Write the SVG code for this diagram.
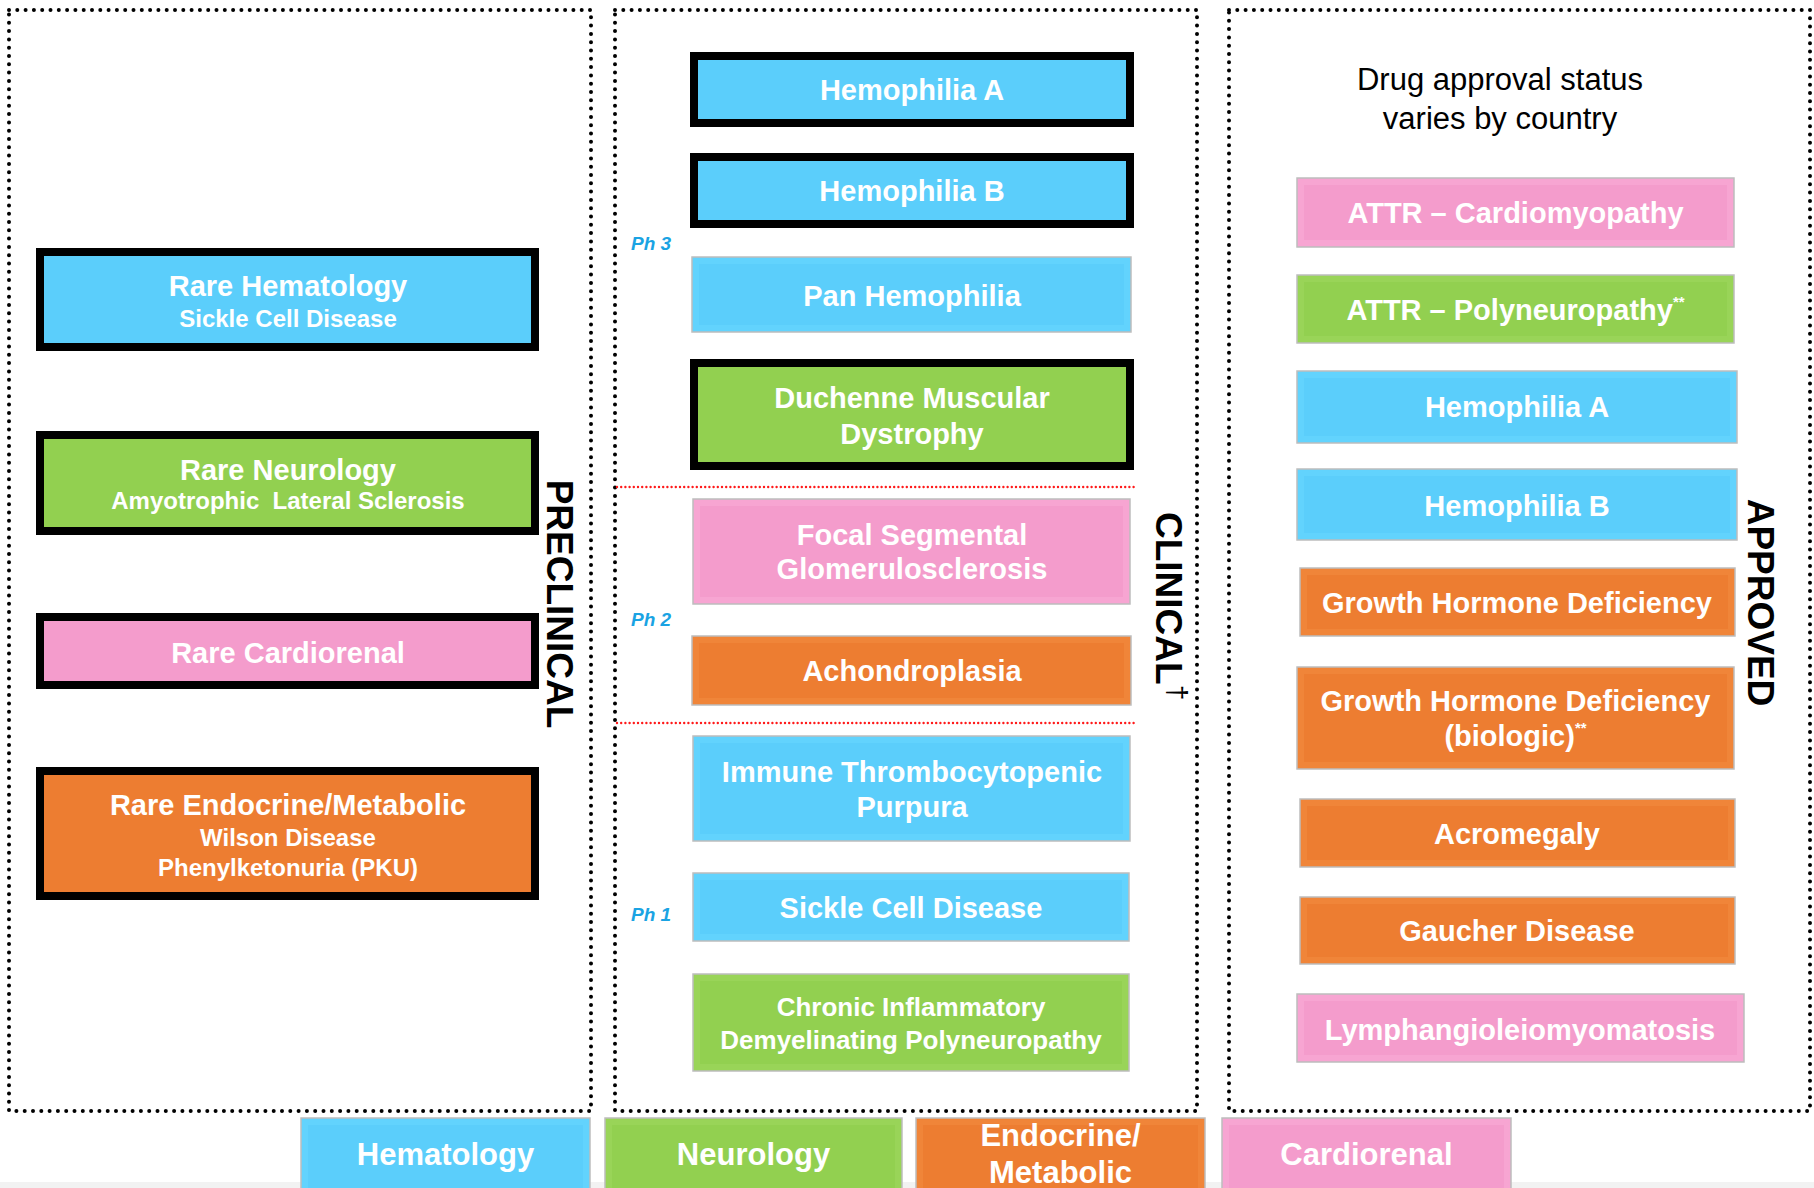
<svg xmlns="http://www.w3.org/2000/svg" width="1814" height="1188" viewBox="0 0 1814 1188">
<style>
.cy{fill:#5bcefb}.cyL{fill:#62d3fd}
.gr{fill:#92d050}.grL{fill:#99d458}
.pk{fill:#f49ccc}.pkL{fill:#f7a5d2}
.or{fill:#ed7d31}.orL{fill:#f08539}
.bd{stroke:#bdbdbd;stroke-width:1.5}
.blk{stroke:#000;stroke-width:8}
.panel{fill:none;stroke:#000;stroke-width:4;stroke-dasharray:0 8.3;stroke-linecap:round}
.red{fill:none;stroke:#ff1a1a;stroke-width:2.4;stroke-dasharray:0 4.2;stroke-linecap:round}
.t{font-family:"Liberation Sans",Arial,sans-serif;font-weight:700;fill:#fff;text-anchor:middle;font-size:29px}
.s{font-size:24px}
.c{font-size:26px}
.lg{font-size:31px}
.ph{font-family:"Liberation Sans",Arial,sans-serif;font-weight:700;font-style:italic;fill:#1aa3e3;font-size:19px}
.v{font-family:"Liberation Sans",Arial,sans-serif;font-weight:700;fill:#000;font-size:37px}
.note{font-family:"Liberation Sans",Arial,sans-serif;fill:#000;font-size:31px;text-anchor:middle}
.sup{font-size:15px}
</style>
<rect x="0" y="0" width="1814" height="1188" fill="#fff"/>
<rect x="0" y="1182" width="1814" height="6" fill="#f2f2f2"/>

<g id="panels">
<rect class="panel" x="9" y="10" width="582" height="1101"/>
<rect class="panel" x="615" y="10" width="582" height="1101"/>
<rect class="panel" x="1229" y="10" width="581" height="1101"/>
<line class="red" x1="617" y1="487" x2="1137" y2="487"/>
<line class="red" x1="617" y1="723" x2="1137" y2="723"/>
</g>

<g id="connectors"></g>

<g id="labels">
<text class="v" transform="translate(547,604) rotate(90)" text-anchor="middle">PRECLINICAL</text>
<text class="v" transform="translate(1156,512) rotate(90)">CLINICAL<tspan font-size="28" font-weight="400" dy="-12">†</tspan></text>
<text class="v" transform="translate(1748,602.5) rotate(90)" text-anchor="middle">APPROVED</text>
<text class="ph" x="631" y="250">Ph 3</text>
<text class="ph" x="631" y="626">Ph 2</text>
<text class="ph" x="631" y="921">Ph 1</text>
<text class="note" x="1500" y="90">Drug approval status</text>
<text class="note" x="1500" y="129">varies by country</text>
</g>

<!-- Preclinical -->
<g id="pre-hematology">
<rect class="cy blk" x="40" y="252" width="495" height="95"/>
<text class="t" x="288" y="296">Rare Hematology</text>
<text class="t s" x="288" y="327">Sickle Cell Disease</text>
</g>
<g id="pre-neurology">
<rect class="gr blk" x="40" y="435" width="495" height="96"/>
<text class="t" x="288" y="480">Rare Neurology</text>
<text class="t s" x="288" y="509" xml:space="preserve">Amyotrophic  Lateral Sclerosis</text>
</g>
<g id="pre-cardiorenal">
<rect class="pk blk" x="40" y="617" width="495" height="68"/>
<text class="t" x="288" y="663">Rare Cardiorenal</text>
</g>
<g id="pre-endocrine">
<rect class="or blk" x="40" y="771" width="495" height="125"/>
<text class="t" x="288" y="815">Rare Endocrine/Metabolic</text>
<text class="t s" x="288" y="846">Wilson Disease</text>
<text class="t s" x="288" y="876">Phenylketonuria (PKU)</text>
</g>

<!-- Clinical -->
<g id="cl-hemophilia-a">
<rect class="cy blk" x="694" y="56" width="436" height="67"/>
<text class="t" x="912" y="100">Hemophilia A</text>
</g>
<g id="cl-hemophilia-b">
<rect class="cy blk" x="694" y="157" width="436" height="67"/>
<text class="t" x="912" y="201">Hemophilia B</text>
</g>
<g id="cl-pan-hemophilia">
<rect class="cyL bd" x="692" y="257" width="439" height="75"/>
<rect class="cy" x="699" y="264" width="425" height="61"/>
<text class="t" x="912" y="306">Pan Hemophilia</text>
</g>
<g id="cl-dmd">
<rect class="gr blk" x="694" y="363" width="436" height="103"/>
<text class="t" x="912" y="408">Duchenne Muscular</text>
<text class="t" x="912" y="444">Dystrophy</text>
</g>
<g id="cl-fsgs">
<rect class="pkL bd" x="693" y="499" width="437" height="105"/>
<rect class="pk" x="700" y="506" width="423" height="91"/>
<text class="t" x="912" y="545">Focal Segmental</text>
<text class="t" x="912" y="579">Glomerulosclerosis</text>
</g>
<g id="cl-achondroplasia">
<rect class="orL bd" x="692" y="636" width="439" height="69"/>
<rect class="or" x="699" y="643" width="425" height="55"/>
<text class="t" x="912" y="681">Achondroplasia</text>
</g>
<g id="cl-itp">
<rect class="cyL bd" x="693" y="736" width="437" height="105"/>
<rect class="cy" x="700" y="743" width="423" height="91"/>
<text class="t" x="912" y="782">Immune Thrombocytopenic</text>
<text class="t" x="912" y="817">Purpura</text>
</g>
<g id="cl-scd">
<rect class="cyL bd" x="693" y="873" width="436" height="68"/>
<rect class="cy" x="700" y="880" width="422" height="54"/>
<text class="t" x="911" y="918">Sickle Cell Disease</text>
</g>
<g id="cl-cidp">
<rect class="grL bd" x="693" y="974" width="436" height="97"/>
<rect class="gr" x="700" y="981" width="422" height="83"/>
<text class="t c" x="911" y="1016">Chronic Inflammatory</text>
<text class="t c" x="911" y="1049">Demyelinating Polyneuropathy</text>
</g>

<!-- Approved -->
<g id="ap-attr-cm">
<rect class="pkL bd" x="1297" y="178" width="437" height="69"/>
<rect class="pk" x="1304" y="185" width="423" height="55"/>
<text class="t" x="1515.5" y="223">ATTR – Cardiomyopathy</text>
</g>
<g id="ap-attr-pn">
<rect class="grL bd" x="1297" y="275" width="437" height="68"/>
<rect class="gr" x="1304" y="282" width="423" height="54"/>
<text class="t" x="1515.5" y="320">ATTR – Polyneuropathy<tspan class="sup" dy="-13">**</tspan></text>
</g>
<g id="ap-hemophilia-a">
<rect class="cyL bd" x="1297" y="371" width="440" height="72"/>
<rect class="cy" x="1304" y="378" width="426" height="58"/>
<text class="t" x="1517" y="417">Hemophilia A</text>
</g>
<g id="ap-hemophilia-b">
<rect class="cyL bd" x="1297" y="469" width="440" height="71"/>
<rect class="cy" x="1304" y="476" width="426" height="57"/>
<text class="t" x="1517" y="516">Hemophilia B</text>
</g>
<g id="ap-ghd">
<rect class="orL bd" x="1300" y="568" width="435" height="68"/>
<rect class="or" x="1307" y="575" width="421" height="54"/>
<text class="t" x="1517" y="613">Growth Hormone Deficiency</text>
</g>
<g id="ap-ghd-bio">
<rect class="orL bd" x="1297" y="667" width="437" height="102"/>
<rect class="or" x="1304" y="674" width="423" height="88"/>
<text class="t" x="1515.5" y="711">Growth Hormone Deficiency</text>
<text class="t" x="1515.5" y="746">(biologic)<tspan class="sup" dy="-13">**</tspan></text>
</g>
<g id="ap-acromegaly">
<rect class="orL bd" x="1300" y="799" width="435" height="68"/>
<rect class="or" x="1307" y="806" width="421" height="54"/>
<text class="t" x="1517" y="844">Acromegaly</text>
</g>
<g id="ap-gaucher">
<rect class="orL bd" x="1300" y="897" width="435" height="67"/>
<rect class="or" x="1307" y="904" width="421" height="53"/>
<text class="t" x="1517" y="941">Gaucher Disease</text>
</g>
<g id="ap-lam">
<rect class="pkL bd" x="1297" y="994" width="447" height="68"/>
<rect class="pk" x="1304" y="1001" width="433" height="54"/>
<text class="t" x="1520" y="1040">Lymphangioleiomyomatosis</text>
</g>

<!-- Legend -->
<g id="lg-hematology">
<rect class="cyL bd" x="301" y="1118" width="289" height="80"/>
<rect class="cy" x="308" y="1125" width="275" height="70"/>
<text class="t lg" x="445.5" y="1165">Hematology</text>
</g>
<g id="lg-neurology">
<rect class="grL bd" x="605" y="1118" width="297" height="80"/>
<rect class="gr" x="612" y="1125" width="283" height="70"/>
<text class="t lg" x="753.5" y="1165">Neurology</text>
</g>
<g id="lg-endocrine">
<rect class="orL bd" x="916" y="1118" width="289" height="80"/>
<rect class="or" x="923" y="1125" width="275" height="70"/>
<text class="t lg" x="1060.5" y="1146">Endocrine/</text>
<text class="t lg" x="1060.5" y="1183">Metabolic</text>
</g>
<g id="lg-cardiorenal">
<rect class="pkL bd" x="1222" y="1118" width="289" height="80"/>
<rect class="pk" x="1229" y="1125" width="275" height="70"/>
<text class="t lg" x="1366.5" y="1165">Cardiorenal</text>
</g>
</svg>
